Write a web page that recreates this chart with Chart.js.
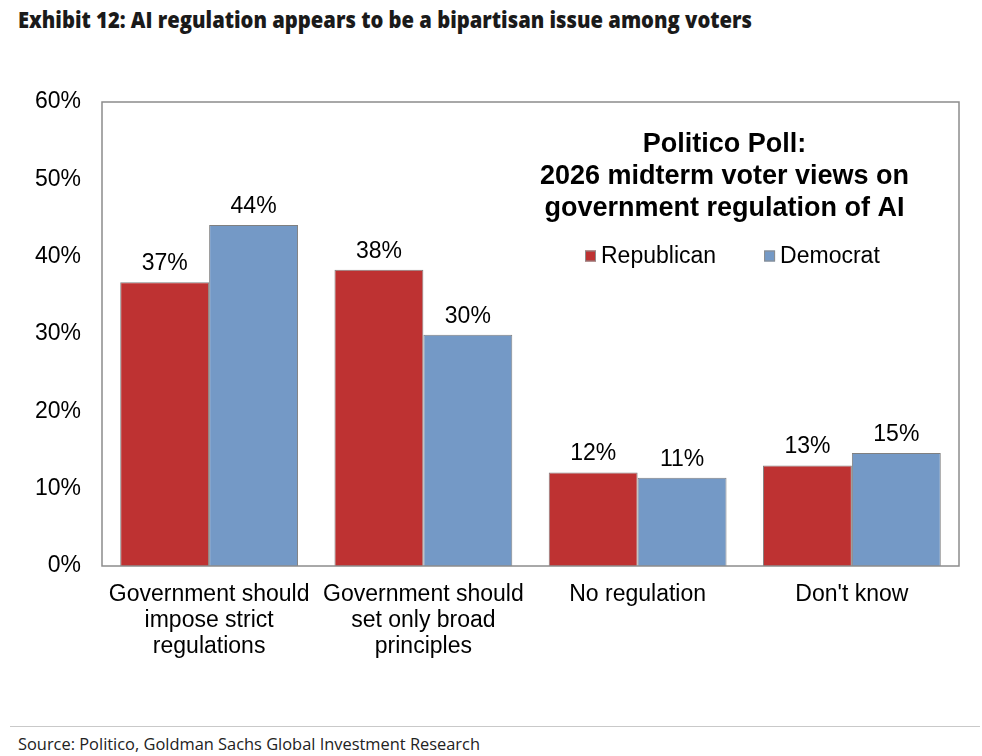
<!DOCTYPE html>
<html>
<head>
<meta charset="utf-8">
<script src="https://cdn.jsdelivr.net/npm/chart.js@4.4.1/dist/chart.umd.min.js"></script>
<style>
html,body{margin:0;padding:0;background:#fff;width:982px;height:756px;overflow:hidden;}
#title{position:absolute;left:18px;top:5px;font-family:"Open Sans","DejaVu Sans Condensed",sans-serif;font-weight:800;font-size:22px;line-height:28px;color:#1a1a1a;white-space:nowrap;transform-origin:0 0;}
#wrap{position:absolute;left:0;top:60px;width:982px;height:640px;}
#rule{position:absolute;left:10px;width:970px;top:726px;height:0;border-top:1.5px solid #c9c9c9;}
#source{position:absolute;left:18px;top:734px;font-family:"Open Sans","DejaVu Sans Condensed",sans-serif;font-size:16px;line-height:20px;color:#222;white-space:nowrap;transform-origin:0 0;}
</style>
</head>
<body>
<div id="title">Exhibit 12: AI regulation appears to be a bipartisan issue among voters</div>
<div id="wrap"><canvas id="c"></canvas></div>
<div id="rule"></div>
<div id="source">Source: Politico, Goldman Sachs Global Investment Research</div>
<script>
// ---- data ----
const categories = [
  ["Government should","impose strict","regulations"],
  ["Government should","set only broad","principles"],
  ["No regulation"],
  ["Don't know"]
];
const seriesNames = ["Republican","Democrat"];
const republican = [36.7, 38.3, 12.1, 13.0];
const democrat   = [44.1, 29.9, 11.4, 14.6];
const yMin = 0, yMax = 60, yStep = 10;
const chartTitle = ["Politico Poll:","2026 midterm voter views on","government regulation of AI"];

function fitWidth(id, w){
  const el = document.getElementById(id);
  const cur = el.getBoundingClientRect().width;
  if (cur > 0) el.style.transform = 'scaleX(' + (w/cur) + ')';
}
fitWidth('title', 734);
fitWidth('source', 462);

const FONT = '"Liberation Sans", Arial, sans-serif';
const RED = '#be3232', BLUE = '#7499c6';

const frame = {
  id:'frame',
  afterDatasetsDraw(chart){
    const {ctx, chartArea:a} = chart;
    ctx.save();
    ctx.strokeStyle = '#8c8c8c';
    ctx.lineWidth = 1.5;
    ctx.strokeRect(a.left, a.top, a.right - a.left, a.bottom - a.top);
    ctx.restore();
  }
};

const valueLabels = {
  id:'valueLabels',
  afterDatasetsDraw(chart){
    const ctx = chart.ctx;
    ctx.save();
    ctx.font = '23px ' + FONT;
    ctx.fillStyle = '#000';
    ctx.textAlign = 'center';
    ctx.textBaseline = 'alphabetic';
    chart.data.datasets.forEach((ds, di) => {
      chart.getDatasetMeta(di).data.forEach((el, i) => {
        ctx.fillText(Math.round(ds.data[i]) + '%', el.x, el.y - 12);
      });
    });
    ctx.restore();
  }
};

const innerTitle = {
  id:'innerTitle',
  afterDraw(chart){
    const {ctx, chartArea:a} = chart;
    const cx = a.left + (a.right - a.left) * 0.7264;
    ctx.save();
    ctx.fillStyle = '#000';
    ctx.textAlign = 'center';
    ctx.textBaseline = 'middle';
    ctx.font = 'bold 27px ' + FONT;
    chartTitle.forEach((t, i) => ctx.fillText(t, cx, a.top + 43 + i * 31.7));
    // legend
    ctx.font = '23px ' + FONT;
    ctx.textAlign = 'left';
    let x = a.left + 483;
    const y = a.top + 154;
    chart.data.datasets.forEach((ds) => {
      ctx.fillStyle = ds.backgroundColor;
      ctx.fillRect(x, y - 5.5, 11, 11);
      ctx.strokeStyle = '#8c8c8c';
      ctx.lineWidth = 1;
      ctx.strokeRect(x + 0.5, y - 5, 10, 10);
      ctx.fillStyle = '#000';
      ctx.fillText(ds.label, x + 16, y + 1);
      x += 16 + ctx.measureText(ds.label).width + 48;
    });
    ctx.restore();
  }
};

new Chart(document.getElementById('c'), {
  type:'bar',
  data:{
    labels: categories,
    datasets:[
      {label: seriesNames[0], data: republican, backgroundColor: RED, borderColor:'#808080', borderWidth:1},
      {label: seriesNames[1], data: democrat, backgroundColor: BLUE, borderColor:'#808080', borderWidth:1}
    ]
  },
  options:{
    responsive:true,
    maintainAspectRatio:false,
    animation:false,
    layout:{padding:{top:42, right:23, left:0, bottom:0}},
    datasets:{bar:{categoryPercentage:0.83, barPercentage:1.0}},
    plugins:{legend:{display:false}, tooltip:{enabled:false}, title:{display:false}},
    scales:{
      x:{
        grid:{display:false, drawTicks:false},
        border:{display:false},
        ticks:{font:{family:FONT, size:23, lineHeight:26/23}, color:'#000', padding:16, maxRotation:0, autoSkip:false},
        afterFit(axis){ axis.height = 134; }
      },
      y:{
        min:yMin, max:yMax,
        grid:{display:false, drawTicks:false},
        border:{display:false},
        ticks:{stepSize:yStep, font:{family:FONT, size:23}, color:'#000', padding:21, callback:(v)=>v+'%'},
        afterFit(axis){ axis.width = 102; }
      }
    }
  },
  plugins:[frame, valueLabels, innerTitle]
});
</script>
</body>
</html>
